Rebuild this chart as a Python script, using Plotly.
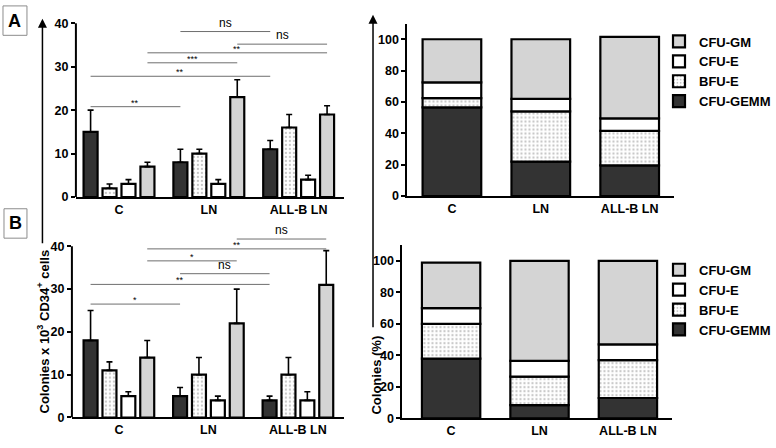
import plotly.graph_objects as go

# ---------------- data ----------------
groups = ["C", "LN", "ALL-B LN"]
series = ["CFU-GEMM", "BFU-E", "CFU-E", "CFU-GM"]

# Panel A (colonies x 10^3 CD34+ cells): means and upper error limits
A_gemm = [15, 8, 11]
A_bfue = [2, 10, 16]
A_cfue = [3, 3, 4]
A_gm = [7, 23, 19]
A_gemm_top = [20, 11, 13]
A_bfue_top = [3, 11, 19]
A_cfue_top = [4, 4, 5]
A_gm_top = [8, 27, 21]

# Panel B
B_gemm = [18, 5, 4]
B_bfue = [11, 10, 10]
B_cfue = [5, 4, 4]
B_gm = [14, 22, 31]
B_gemm_top = [25, 7, 5]
B_bfue_top = [13, 14, 14]
B_cfue_top = [6, 5, 6]
B_gm_top = [18, 30, 39]

# Percent stacks
A_pct_gemm = [56.5, 22, 19.5]
A_pct_bfue = [6, 32, 22]
A_pct_cfue = [10, 8, 8]
A_pct_gm = [27.5, 38, 52]

B_pct_gemm = [38, 8.5, 13]
B_pct_bfue = [22, 18, 24]
B_pct_cfue = [10, 10, 10]
B_pct_gm = [29, 63.5, 53]

# significance brackets: (group, series index) from -> to, height, label
sigA_from = [(1, 0), (1, 3), (0, 3), (0, 3), (0, 0), (0, 0)]
sigA_to = [(2, 0), (2, 3), (2, 3), (1, 3), (2, 0), (1, 0)]
sigA_y = [38.1, 35.2, 33.2, 30.9, 27.8, 20.8]
sigA_label = ["ns", "ns", "**", "***", "**", "**"]

sigB_from = [(1, 3), (0, 3), (0, 3), (1, 0), (0, 0), (0, 0)]
sigB_to = [(2, 3), (2, 3), (1, 3), (2, 0), (2, 0), (1, 0)]
sigB_y = [41.7, 39.4, 36.6, 33.6, 31.1, 26.5]
sigB_label = ["ns", "**", "*", "ns", "**", "*"]

# ---------------- style ----------------
W, H = 776, 448
DARK = "#333333"
LIGHT = "#d4d4d4"
FONT = "Liberation Sans"
BARGAP = 0.156
GROUPGAP = 0.26


def px(x):
    return x / W


def py(y):
    return 1 - y / H


fills = {
    "CFU-GEMM": dict(color=DARK),
    "BFU-E": dict(color="white", pattern=dict(shape=".", fgcolor="#8a8a8a", bgcolor="white", size=4, solidity=0.25)),
    "CFU-E": dict(color="white"),
    "CFU-GM": dict(color=LIGHT),
}

fig = go.Figure()
xs = [0, 1, 2]


def add_grouped(vals, tops, xa, ya):
    for name, v, t in zip(series, vals, tops):
        fig.add_trace(go.Bar(
            x=xs, y=v, name=name, showlegend=False, xaxis=xa, yaxis=ya,
            marker=dict(**fills[name], line=dict(color="black", width=2.2)),
            error_y=dict(type="data", symmetric=False,
                         array=[tt - vv for tt, vv in zip(t, v)],
                         arrayminus=[0] * len(v),
                         color="black", thickness=1.6, width=3),
        ))


def add_stacked(vals, xa, ya, legend, show):
    base = [0, 0, 0]
    for name, v in zip(series, vals):
        fig.add_trace(go.Bar(
            x=xs, y=v, base=list(base), name=name, showlegend=show, legend=legend,
            xaxis=xa, yaxis=ya, width=0.66, offset=-0.33,
            marker=dict(**fills[name], line=dict(color="black", width=2.2)),
        ))
        base = [b + vv for b, vv in zip(base, v)]


add_grouped([A_gemm, A_bfue, A_cfue, A_gm], [A_gemm_top, A_bfue_top, A_cfue_top, A_gm_top], "x", "y")
add_grouped([B_gemm, B_bfue, B_cfue, B_gm], [B_gemm_top, B_bfue_top, B_cfue_top, B_gm_top], "x3", "y3")
add_stacked([A_pct_gemm, A_pct_bfue, A_pct_cfue, A_pct_gm], "x2", "y2", "legend", True)
add_stacked([B_pct_gemm, B_pct_bfue, B_pct_cfue, B_pct_gm], "x4", "y4", "legend2", True)

xtickfont = dict(family=FONT, size=12.5, color="black", weight="bold")
ytickfont = dict(family=FONT, size=12.5, color="black", weight="bold")


def xaxis(dom, rng, anchor):
    return dict(domain=dom, range=rng, tickvals=xs, ticktext=groups, showline=True,
                linecolor="black", linewidth=2, ticks="", tickfont=xtickfont, anchor=anchor,
                showgrid=False, zeroline=False, fixedrange=True)


def yaxis(dom, rng, tv, anchor, line=True):
    return dict(domain=dom, range=rng, tickvals=tv, showline=line, linecolor="black",
                linewidth=2, ticks="outside", ticklen=4, tickwidth=1.5, tickcolor="black",
                tickfont=ytickfont, showgrid=False, zeroline=False, anchor=anchor, fixedrange=True)


legfont = dict(family=FONT, size=13, color="black", weight="bold")

fig.update_layout(
    width=W, height=H, margin=dict(l=0, r=0, t=0, b=0),
    paper_bgcolor="white", plot_bgcolor="white",
    barmode="group", bargap=BARGAP, bargroupgap=GROUPGAP,
    font=dict(family=FONT, size=12, color="black"),
    xaxis=xaxis([px(76), px(344)], [-0.48, 2.5], "y"),
    yaxis=yaxis([py(199), py(17.3)], [0, 41], [0, 10, 20, 30, 40], "x", line=False),
    xaxis3=xaxis([px(72), px(344)], [-0.525, 2.51], "y3"),
    yaxis3=yaxis([py(424), py(238.4)], [0, 42.5], [0, 10, 20, 30, 40], "x3", line=False),
    xaxis2=xaxis([px(408), px(675)], [-0.5, 2.5], "y2"),
    yaxis2=yaxis([py(198), py(22)], [0, 110], [0, 20, 40, 60, 80, 100], "x2"),
    xaxis4=xaxis([px(403), px(673)], [-0.55, 2.5], "y4"),
    yaxis4=yaxis([py(425), py(248.2)], [0, 110], [0, 20, 40, 60, 80, 100], "x4"),
    legend=dict(x=px(660), y=py(25), xanchor="left", yanchor="top", traceorder="reversed",
                font=legfont, bgcolor="rgba(0,0,0,0)", tracegroupgap=0),
    legend2=dict(x=px(660), y=py(258), xanchor="left", yanchor="top", traceorder="reversed",
                 font=legfont, bgcolor="rgba(0,0,0,0)", tracegroupgap=0),
)

shapes = []
annotations = []

# manual left y-axis lines stopping at 40
shapes.append(dict(type="line", xref="paper", yref="y", x0=px(76), x1=px(76), y0=0, y1=40,
                   line=dict(color="black", width=2)))
shapes.append(dict(type="line", xref="paper", yref="y3", x0=px(72), x1=px(72), y0=0, y1=40,
                   line=dict(color="black", width=2)))

slot = (1 - BARGAP) / 4


def bar_x(g, s):
    return g - (1 - BARGAP) / 2 + slot * (s + 0.5)


def add_sig(froms, tos, ys, labels, xr, yr):
    for f, t, yv, lab in zip(froms, tos, ys, labels):
        x0, x1 = bar_x(*f), bar_x(*t)
        shapes.append(dict(type="line", xref=xr, yref=yr, x0=x0, x1=x1, y0=yv, y1=yv,
                           line=dict(color="#6e6e6e", width=1)))
        is_ns = lab == "ns"
        annotations.append(dict(x=(x0 + x1) / 2, y=yv, xref=xr, yref=yr, text=lab,
                                showarrow=False, yanchor="bottom", yshift=0 if is_ns else -3,
                                font=dict(family=FONT, size=12 if is_ns else 9, color="black")))


add_sig(sigA_from, sigA_to, sigA_y, sigA_label, "x", "y")
add_sig(sigB_from, sigB_to, sigB_y, sigB_label, "x3", "y3")

# panel letter boxes
for lab, (x0, y0, x1, y1) in [("A", (3, 4, 27, 34)), ("B", (4, 211, 27, 241))]:
    shapes.append(dict(type="rect", xref="paper", yref="paper", x0=px(x0), x1=px(x1),
                       y0=py(y1), y1=py(y0), line=dict(color="#8c8c8c", width=1)))
    annotations.append(dict(x=px((x0 + x1) / 2), y=py((y0 + y1) / 2), xref="paper", yref="paper",
                            text=lab, showarrow=False, xanchor="center", yanchor="middle",
                            font=dict(family=FONT, size=18, color="black", weight="bold")))

# arrows
annotations.append(dict(x=px(42.5), y=py(17), xref="paper", yref="paper", text="",
                        showarrow=True, ax=0, ay=226, arrowhead=2, arrowsize=1.2,
                        arrowwidth=1.5, arrowcolor="black", standoff=0, startstandoff=0))
annotations.append(dict(x=px(373.5), y=py(13), xref="paper", yref="paper", text="",
                        showarrow=True, ax=0, ay=314, arrowhead=2, arrowsize=1.2,
                        arrowwidth=1.5, arrowcolor="black", standoff=0, startstandoff=0))

# axis titles (anchored at their lower end)
annotations.append(dict(x=px(43), y=py(422), xref="paper", yref="paper", textangle=-90,
                        text="Colonies x 10<sup>3</sup> CD34<sup>+</sup> cells", showarrow=False,
                        xanchor="center", yanchor="bottom",
                        font=dict(family=FONT, size=13, color="black", weight="bold")))
annotations.append(dict(x=px(376), y=py(423), xref="paper", yref="paper", textangle=-90,
                        text="Colonies (%)", showarrow=False, xanchor="center", yanchor="bottom",
                        font=dict(family=FONT, size=13, color="black", weight="bold")))

fig.update_layout(shapes=shapes, annotations=annotations)
fig.write_html("out.html", config={"displayModeBar": False},
               post_script="document.body.style.margin='0px';document.body.style.padding='0px';")
